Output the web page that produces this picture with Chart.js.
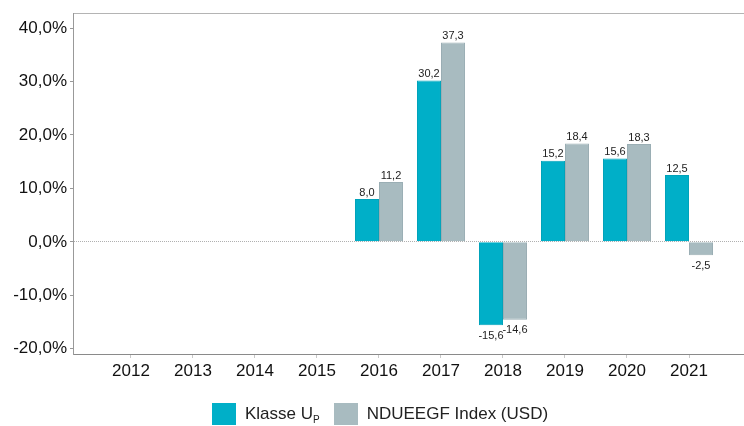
<!DOCTYPE html>
<html>
<head>
<meta charset="utf-8">
<script src="https://cdn.jsdelivr.net/npm/chart.js@4.4.0/dist/chart.umd.min.js"></script>
<style>
  body { margin: 0; background: #fff; }
  #wrap { position: relative; width: 744px; height: 426px; }
  #legend { position: absolute; left: 212px; top: 403px; height: 22px; display: flex; align-items: center;
            font: 17px "Liberation Sans", Arial, sans-serif; color: #222; white-space: nowrap; }
  .box { width: 24px; height: 22px; margin-right: 9px; }
  .item { display: flex; align-items: center; margin-right: 14px; }
  sub { font-size: 10px; vertical-align: -4px; }
</style>
</head>
<body>
<div id="wrap">
  <canvas id="myChart" width="744" height="426"></canvas>
  <div id="legend">
    <div class="item"><div class="box" style="background:#00AFC8"></div><span>Klasse U<sub>P</sub></span></div>
    <div class="item"><div class="box" style="background:#A8BBC0"></div><span>NDUEEGF Index (USD)</span></div>
  </div>
</div>
<script>
const years = ['2012', '2013', '2014', '2015', '2016', '2017', '2018', '2019', '2020', '2021'];
const klasseU = [null, null, null, null, 8.0, 30.2, -15.6, 15.2, 15.6, 12.5];
const ndueegf = [null, null, null, null, 11.2, 37.3, -14.6, 18.4, 18.3, -2.5];
const yTicks = [-20, -10, 0, 10, 20, 30, 40];

const fontFamily = '"Liberation Sans", Arial, sans-serif';

// values written above / below each bar
const valueLabels = {
    id: 'valueLabels',
    afterDatasetsDraw(chart) {
        const ctx = chart.ctx;
        ctx.save();
        ctx.font = '11px ' + fontFamily;
        ctx.fillStyle = '#222';
        ctx.textAlign = 'center';
        chart.data.datasets.forEach((ds, i) => {
            chart.getDatasetMeta(i).data.forEach((bar, j) => {
                const v = ds.data[j].y;
                if (v == null) return;
                const txt = v.toFixed(1).replace('.', ',');
                if (v >= 0) {
                    ctx.textBaseline = 'bottom';
                    ctx.fillText(txt, bar.x, bar.y - 1);
                } else {
                    ctx.textBaseline = 'top';
                    ctx.fillText(txt, bar.x, bar.y + 5);
                }
            });
        });
        ctx.restore();
    }
};

const data = {
    datasets: [
        {
            label: 'Klasse UP',
            data: klasseU.map((v, i) => ({ x: i, y: v })),
            backgroundColor: '#00AFC8',
            borderColor: '#00A3BA',
            borderWidth: 1,
            categoryPercentage: 0.774,
            barPercentage: 1
        },
        {
            label: 'NDUEEGF Index (USD)',
            data: ndueegf.map((v, i) => ({ x: i, y: v })),
            backgroundColor: '#A8BBC0',
            borderColor: '#9AAEB4',
            borderWidth: 1,
            categoryPercentage: 0.774,
            barPercentage: 1
        }
    ]
};

const config = {
    type: 'bar',
    data,
    options: {
        responsive: false,
        animation: false,
        layout: { padding: { top: 11, left: 0, right: 0, bottom: 0 } },
        plugins: {
            legend: { display: false },
            tooltip: { enabled: false }
        },
        scales: {
            x: {
                type: 'linear',
                position: 'bottom',
                offset: false,
                min: -0.935,
                max: 9.887,
                afterBuildTicks: s => { s.ticks = years.map((y, i) => ({ value: i })); },
                afterFit: s => { s.height = 72; },
                grid: { offset: false, drawOnChartArea: false, tickLength: 4, tickColor: '#c8c8c8' },
                border: { color: '#8a8a8a' },
                ticks: {
                    callback: v => years[v],
                    autoSkip: false,
                    maxRotation: 0,
                    padding: 3,
                    color: '#111',
                    font: { size: 17, family: fontFamily }
                }
            },
            xTop: {
                type: 'linear',
                position: 'top',
                offset: false,
                min: 0,
                max: 1,
                afterFit: s => { s.height = 0; },
                ticks: { display: false },
                grid: { offset: false, drawOnChartArea: false, drawTicks: false },
                border: { color: '#b4b4b4' }
            },
            y: {
                min: -21,
                max: 42.8,
                afterBuildTicks: s => { s.ticks = yTicks.map(v => ({ value: v })); },
                afterFit: s => { s.width = 73; },
                grid: {
                    color: c => (c.tick && c.tick.value === 0) ? '#b0b0b0' : 'transparent',
                    tickColor: '#999',
                    tickLength: 3
                },
                border: { color: '#999', dash: [1, 1] },
                ticks: {
                    callback: v => v.toFixed(1).replace('.', ',') + '%',
                    padding: 3,
                    color: '#111',
                    font: { size: 17, family: fontFamily }
                }
            }
        }
    },
    plugins: [valueLabels]
};

window.myChart = new Chart(document.getElementById('myChart'), config);
</script>
</body>
</html>
